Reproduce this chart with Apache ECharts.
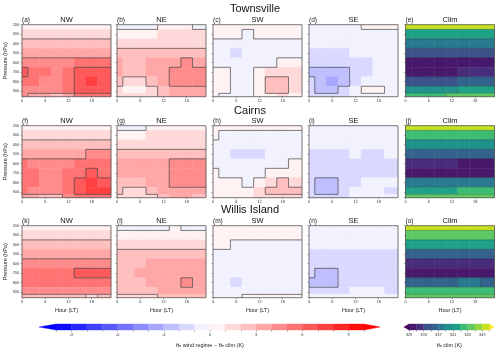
<!DOCTYPE html>
<html>
<head>
<meta charset="utf-8">
<script src="https://cdn.jsdelivr.net/npm/echarts@6/dist/echarts.min.js"></script>
<style>
html, body { margin: 0; padding: 0; background: #fff; }
#chart { width: 500px; height: 350px; }
</style>
</head>
<body>
<div id="chart"></div>
<script>
// grid of the composites: local hour x pressure level
var hours = [0, 3, 6, 9, 12, 15, 18, 21];
var levels = [200, 300, 400, 500, 600, 700, 800, 900, 950];
var stations = ['Townsville', 'Cairns', 'Willis Island'];
var regimes = ['NW', 'NE', 'SW', 'SE', 'Clim'];
var panelTags = ['(a)', '(b)', '(c)', '(d)', '(e)', '(f)', '(g)', '(h)', '(i)', '(j)', '(k)', '(l)', '(m)', '(n)', '(o)'];
var hourTicks = [0, 6, 12, 18];
var anomLevels = [-10, -9, -8, -7, -6, -5, -4, -3, -2, -1, 0, 1, 2, 3, 4, 5, 6, 7, 8, 9, 10];
var anomTicks = [-9, -6, -3, 0, 3, 6, 9];
var climLevels = [329, 331, 333, 335, 337, 339, 341, 343, 345, 347, 349, 351];
var climTicks = [329, 333, 337, 341, 345, 349];

// theta-e anomaly (K), rows = levels, cols = hours
var tsvNW = [
  [0.6, 0.6, 0.5, 0.5, 0.6, 0.7, 0.8, 0.7],
  [1.4, 1.3, 1.3, 1.3, 1.5, 1.5, 1.6, 1.6],
  [2.3, 2.2, 2.1, 2.1, 2.2, 2.3, 2.4, 2.4],
  [3.3, 3.2, 3.1, 3.2, 3.4, 3.6, 3.8, 3.8],
  [4.6, 4.5, 4.3, 4.3, 4.6, 5.0, 5.3, 5.2],
  [6.0, 5.6, 5.0, 4.8, 5.3, 6.0, 6.4, 6.3],
  [5.5, 5.2, 4.8, 4.6, 5.6, 6.6, 7.0, 6.8],
  [4.8, 4.6, 4.3, 4.2, 5.0, 6.2, 6.8, 6.5],
  [4.0, 3.6, 3.0, 2.6, 3.6, 5.0, 5.6, 5.4]
];
var tsvNE = [
  [-0.3, -0.3, -0.4, -0.2, 0.1, 0.2, 0.1, -0.1],
  [0.8, 0.8, 0.8, 0.9, 1.0, 1.0, 1.1, 1.1],
  [1.5, 1.5, 1.5, 1.6, 1.8, 1.9, 1.9, 1.9],
  [2.3, 2.3, 2.3, 2.4, 2.6, 2.8, 2.8, 2.7],
  [3.0, 2.9, 2.9, 3.0, 3.4, 3.9, 4.0, 3.8],
  [3.2, 2.9, 2.8, 3.0, 3.6, 4.5, 4.6, 4.2],
  [2.4, 1.8, 1.7, 2.2, 3.2, 4.4, 4.5, 4.0],
  [1.8, 0.9, 0.6, 1.3, 2.8, 3.8, 3.8, 3.4],
  [1.6, 1.2, 1.0, 1.4, 2.5, 3.2, 3.3, 3.0]
];
var tsvSW = [
  [0.4, 0.4, 0.4, 0.3, 0.3, 0.3, 0.3, 0.3],
  [0.2, 0.1, 0.0, -0.1, 0.1, 0.3, 0.3, 0.3],
  [-0.2, -0.4, -0.4, -0.5, -0.3, -0.2, -0.1, -0.1],
  [-0.4, -0.7, -1.1, -0.7, -0.5, -0.6, -0.3, -0.2],
  [-0.1, -0.5, -0.6, -0.6, -0.3, -0.1, 0.2, 0.3],
  [0.6, 0.2, -0.3, -0.4, 0.4, 1.0, 1.2, 1.0],
  [0.8, 0.4, -0.3, -0.5, 0.6, 2.3, 2.4, 1.5],
  [0.6, 0.3, -0.3, -0.3, 0.5, 2.2, 2.3, 1.4],
  [0.3, -0.2, -0.6, -0.7, 0.0, 0.8, 1.0, 0.8]
];
var tsvSE = [
  [-0.3, -0.3, -0.2, -0.2, -0.1, 0.0, 0.3, 0.2],
  [-0.5, -0.5, -0.5, -0.5, -0.4, -0.4, -0.3, -0.3],
  [-0.6, -0.6, -0.6, -0.6, -0.5, -0.5, -0.5, -0.5],
  [-1.2, -1.2, -1.1, -1.1, -1.0, -1.0, -0.9, -0.9],
  [-1.6, -1.8, -1.8, -1.6, -1.3, -1.1, -1.0, -1.0],
  [-2.2, -2.6, -2.8, -2.5, -1.6, -1.1, -0.9, -0.9],
  [-2.0, -2.8, -3.3, -3.0, -1.4, -0.6, -0.4, -0.6],
  [-1.6, -2.2, -2.4, -2.0, -0.8, 0.2, 0.3, -0.2],
  [-1.2, -1.5, -1.6, -1.4, -0.8, -0.4, -0.3, -0.5]
];
var crnNW = [
  [0.7, 0.7, 0.6, 0.7, 0.8, 0.8, 0.8, 0.8],
  [1.5, 1.5, 1.5, 1.5, 1.6, 1.6, 1.6, 1.6],
  [2.4, 2.3, 2.3, 2.4, 2.5, 2.4, 2.4, 2.5],
  [3.6, 3.6, 3.5, 3.6, 3.8, 3.9, 4.0, 4.0],
  [5.0, 4.8, 4.5, 4.5, 4.8, 5.1, 5.2, 5.2],
  [5.4, 5.2, 4.8, 4.7, 5.0, 5.8, 6.0, 5.9],
  [5.3, 5.1, 4.7, 4.5, 5.2, 6.6, 7.0, 6.8],
  [5.0, 4.8, 4.3, 4.2, 5.4, 6.8, 7.6, 7.3],
  [3.6, 3.2, 2.8, 2.8, 4.0, 5.2, 5.8, 5.6]
];
var crnNE = [
  [-0.3, -0.3, -0.2, 0.1, 0.3, 0.4, 0.4, 0.3],
  [0.8, 0.9, 0.9, 1.0, 1.1, 1.1, 1.2, 1.1],
  [1.6, 1.7, 1.7, 1.8, 1.9, 1.9, 1.9, 1.9],
  [2.5, 2.6, 2.6, 2.7, 2.8, 2.9, 2.9, 2.8],
  [3.0, 3.0, 3.1, 3.2, 3.6, 4.2, 4.3, 4.2],
  [3.1, 3.1, 3.1, 3.3, 3.8, 4.5, 4.6, 4.4],
  [2.9, 2.8, 2.8, 3.0, 3.6, 4.4, 4.5, 4.2],
  [2.2, 1.8, 1.7, 2.3, 3.2, 3.7, 3.7, 3.5],
  [1.6, 1.2, 1.2, 1.7, 2.6, 3.1, 3.1, 2.9]
];
var crnSW = [
  [0.3, 0.4, 0.5, 0.4, 0.3, 0.3, 0.3, 0.3],
  [0.0, -0.1, -0.1, -0.1, -0.2, -0.2, -0.3, -0.3],
  [-0.6, -0.7, -0.8, -0.8, -0.8, -0.8, -0.7, -0.7],
  [-0.8, -1.0, -1.2, -1.2, -1.1, -1.0, -0.9, -0.8],
  [-0.3, -0.6, -0.8, -0.9, -0.7, -0.5, -0.3, 0.0],
  [0.3, -0.2, -0.5, -0.6, -0.2, 0.3, 0.6, 0.7],
  [0.6, 0.3, 0.0, -0.1, 0.8, 1.8, 2.0, 1.8],
  [0.8, 0.6, 0.3, 0.3, 1.2, 2.2, 2.8, 2.6],
  [0.6, 0.5, 0.4, 0.4, 1.0, 1.6, 1.8, 1.7]
];
var crnSE = [
  [-0.4, -0.4, -0.4, -0.4, -0.3, -0.3, -0.1, -0.2],
  [-0.6, -0.6, -0.6, -0.6, -0.6, -0.6, -0.5, -0.5],
  [-0.8, -0.8, -0.8, -0.8, -0.8, -0.8, -0.7, -0.7],
  [-1.1, -1.1, -1.1, -1.1, -1.0, -1.1, -1.1, -1.0],
  [-1.3, -1.3, -1.3, -1.3, -1.2, -1.2, -1.2, -1.2],
  [-1.4, -1.5, -1.5, -1.4, -1.2, -1.1, -1.2, -1.2],
  [-1.6, -2.1, -2.2, -1.8, -1.1, -0.8, -0.8, -1.0],
  [-1.7, -2.4, -2.6, -2.0, -1.0, -0.7, -0.8, -1.1],
  [-1.3, -1.4, -1.5, -1.3, -0.8, -0.6, -0.6, -0.8]
];
var wilNW = [
  [0.6, 0.6, 0.6, 0.7, 0.9, 0.7, 0.7, 0.7],
  [1.5, 1.5, 1.5, 1.5, 1.6, 1.5, 1.5, 1.5],
  [2.2, 2.2, 2.2, 2.2, 2.3, 2.2, 2.2, 2.2],
  [3.4, 3.4, 3.4, 3.5, 3.7, 3.7, 3.7, 3.6],
  [4.6, 4.6, 4.6, 4.7, 4.9, 4.9, 4.9, 4.8],
  [5.1, 5.1, 5.1, 5.3, 5.9, 6.0, 6.2, 6.0],
  [5.0, 5.0, 5.0, 5.1, 5.4, 5.5, 5.8, 5.5],
  [4.2, 4.2, 4.2, 4.3, 4.6, 4.6, 4.7, 4.5],
  [2.5, 2.5, 2.4, 2.4, 2.6, 2.6, 1.9, 2.5]
];
var wilNE = [
  [-0.2, -0.2, -0.2, -0.1, -0.3, 0.0, -0.1, -0.1],
  [0.6, 0.6, 0.6, 0.6, 0.6, 0.6, 0.6, 0.6],
  [1.4, 1.4, 1.4, 1.5, 1.6, 1.6, 1.6, 1.6],
  [2.2, 2.2, 2.3, 2.4, 2.6, 2.6, 2.6, 2.5],
  [2.8, 2.8, 2.9, 3.1, 3.3, 3.3, 3.3, 3.2],
  [2.9, 2.9, 3.0, 3.2, 3.5, 3.6, 3.7, 3.5],
  [2.8, 2.8, 2.8, 3.0, 3.4, 3.6, 4.2, 3.7],
  [2.4, 2.4, 2.4, 2.6, 3.0, 3.2, 3.5, 3.3],
  [1.5, 1.5, 1.6, 1.7, 2.0, 2.1, 2.1, 2.0]
];
var wilSW = [
  [0.4, 0.4, 0.4, 0.4, 0.4, 0.4, 0.4, 0.4],
  [0.3, 0.3, 0.3, 0.1, 0.1, 0.1, 0.2, 0.2],
  [0.0, 0.0, -0.1, -0.2, -0.2, -0.2, -0.2, -0.3],
  [-0.3, -0.3, -0.3, -0.4, -0.4, -0.4, -0.4, -0.4],
  [-0.5, -0.5, -0.6, -0.5, -0.5, -0.5, -0.5, -0.5],
  [-0.6, -0.7, -0.9, -0.7, -0.6, -0.6, -0.6, -0.6],
  [-0.7, -0.9, -1.2, -0.9, -0.7, -0.7, -0.7, -0.7],
  [-0.5, -0.6, -0.7, -0.6, -0.4, -0.4, -0.5, -0.5],
  [-0.2, -0.2, -0.1, 0.1, 0.2, 0.3, 0.2, 0.1]
];
var wilSE = [
  [-0.4, -0.4, -0.4, -0.4, -0.4, -0.4, -0.4, -0.4],
  [-0.5, -0.5, -0.5, -0.5, -0.5, -0.5, -0.5, -0.5],
  [-0.7, -0.7, -0.7, -0.7, -0.7, -0.7, -0.7, -0.7],
  [-1.1, -1.1, -1.1, -1.1, -1.1, -1.1, -1.1, -1.1],
  [-1.4, -1.5, -1.5, -1.4, -1.2, -1.1, -1.1, -1.2],
  [-2.0, -2.2, -2.2, -2.0, -1.3, -1.1, -1.2, -1.6],
  [-2.1, -2.2, -2.1, -1.8, -1.1, -1.2, -1.2, -1.4],
  [-1.5, -1.5, -1.4, -1.2, -1.0, -1.0, -1.0, -1.1],
  [-1.0, -1.0, -0.7, -0.4, -0.4, -0.6, -0.8, -0.9]
];
// climatological theta-e (K)
var tsvClim = [
  [350.0, 350.0, 350.0, 350.0, 350.0, 350.0, 350.0, 350.0],
  [342.5, 342.5, 342.5, 342.5, 342.4, 342.4, 342.4, 342.4],
  [338.5, 338.5, 338.5, 338.5, 338.3, 338.2, 338.2, 338.3],
  [334.0, 334.0, 334.0, 334.0, 333.6, 333.4, 333.4, 333.5],
  [330.0, 330.0, 330.0, 330.0, 329.6, 329.4, 329.4, 329.4],
  [329.4, 329.4, 329.5, 329.6, 330.5, 331.2, 331.3, 331.2],
  [333.8, 333.8, 333.6, 333.5, 334.5, 335.4, 335.6, 335.4],
  [340.2, 340.2, 340.0, 340.0, 340.8, 341.4, 341.5, 341.4],
  [344.6, 344.6, 344.5, 344.5, 345.0, 345.5, 345.6, 345.5]
];
var crnClim = [
  [350.5, 350.5, 350.5, 350.5, 350.5, 350.5, 350.5, 350.5],
  [344.5, 344.5, 344.5, 344.5, 344.4, 344.4, 344.4, 344.4],
  [340.2, 340.2, 340.2, 340.2, 340.1, 340.0, 340.0, 340.1],
  [335.8, 335.8, 335.8, 335.8, 335.6, 335.5, 335.5, 335.6],
  [331.8, 331.8, 331.8, 331.6, 331.0, 330.6, 330.6, 330.8],
  [329.6, 329.6, 329.6, 329.8, 330.0, 330.6, 330.6, 330.4],
  [337.5, 337.5, 337.3, 337.2, 337.6, 338.2, 338.3, 338.0],
  [342.5, 342.5, 342.4, 342.4, 342.8, 343.2, 343.3, 343.0],
  [346.0, 346.0, 346.0, 346.0, 346.2, 346.5, 346.5, 346.3]
];
var wilClim = [
  [350.5, 350.5, 350.5, 350.5, 350.5, 350.5, 350.5, 350.5],
  [345.5, 345.5, 345.5, 345.5, 345.5, 345.5, 345.5, 345.5],
  [341.5, 341.5, 341.5, 341.5, 341.5, 341.5, 341.5, 341.5],
  [336.5, 336.5, 336.5, 336.5, 336.4, 336.4, 336.4, 336.5],
  [332.4, 332.4, 332.4, 332.4, 332.2, 332.2, 332.2, 332.3],
  [329.6, 329.6, 329.6, 329.6, 329.7, 329.7, 329.7, 329.6],
  [336.8, 336.8, 336.8, 336.8, 336.9, 337.0, 337.0, 336.9],
  [343.0, 343.0, 343.0, 343.0, 343.0, 343.1, 343.1, 343.0],
  [346.0, 346.0, 346.0, 346.0, 346.0, 346.1, 346.1, 346.0]
];

var panels = [
  tsvNW, tsvNE, tsvSW, tsvSE, tsvClim,
  crnNW, crnNE, crnSW, crnSE, crnClim,
  wilNW, wilNE, wilSW, wilSE, wilClim
];

// ---- layout / style ----
var colLeft = [22, 117, 213, 309, 405.5];
var rowTop = [24.7, 125.7, 225.7];
var panelW = 89, panelH = 72;
var hourEdges = [0, 1.5, 4.5, 7.5, 10.5, 13.5, 16.5, 19.5, 23];
var levelEdges = [200, 250, 350, 450, 550, 650, 750, 850, 925, 960];
var fontFam = 'Liberation Sans, Arial, sans-serif';

function bwr(c) {
  var f = Math.min(Math.abs(c) / 10, 1);
  var g = Math.round(255 * (1 - f));
  return c < 0 ? 'rgb(' + g + ',' + g + ',255)' : 'rgb(255,' + g + ',' + g + ')';
}
var viridis = ['#440154', '#48186a', '#472d7b', '#3b528b', '#33638d', '#297a8e', '#21918c',
  '#1fa188', '#3fbc73', '#5ec962', '#90d743', '#c8e020', '#fde725'];

var anomPieces = [{ lt: anomLevels[0], color: '#0000ff' }];
for (var k = 0; k < anomLevels.length - 1; k++) {
  anomPieces.push({ gte: anomLevels[k], lt: anomLevels[k + 1], color: bwr((anomLevels[k] + anomLevels[k + 1]) / 2) });
}
anomPieces.push({ gte: anomLevels[anomLevels.length - 1], color: '#ff0000' });

var climPieces = [{ lt: climLevels[0], color: viridis[0] }];
for (var k2 = 0; k2 < climLevels.length - 1; k2++) {
  climPieces.push({ gte: climLevels[k2], lt: climLevels[k2 + 1], color: viridis[k2 + 1] });
}
climPieces.push({ gte: climLevels[climLevels.length - 1], color: viridis[12] });

function renderCell(params, api) {
  var i = api.value(3), j = api.value(4);
  var p0 = api.coord([hourEdges[i], levelEdges[j]]);
  var p1 = api.coord([hourEdges[i + 1], levelEdges[j + 1]]);
  var col = api.visual('color');
  return {
    type: 'rect',
    shape: { x: p0[0], y: p0[1], width: p1[0] - p0[0], height: p1[1] - p0[1] },
    style: { fill: col, stroke: col, lineWidth: 0.5 }
  };
}

// contour band index: every 2 K for anomalies, every 4 K from 329 for clim
function band(v, isClim) {
  return isClim ? Math.floor((v - 329) / 4) : Math.floor(v / 2);
}
function renderEdges(params, api) {
  var i = api.value(3), j = api.value(4), p = api.value(5);
  var vals = panels[p], isClim = (p % 5 === 4);
  var v = vals[j][i], kids = [];
  var lc = isClim ? 'rgba(30,30,30,0.35)' : '#444';
  if (i < hours.length - 1 && band(v, isClim) !== band(vals[j][i + 1], isClim)) {
    var a = api.coord([hourEdges[i + 1], levelEdges[j]]), b = api.coord([hourEdges[i + 1], levelEdges[j + 1]]);
    kids.push({ type: 'line', shape: { x1: a[0], y1: a[1], x2: b[0], y2: b[1] }, style: { stroke: lc, lineWidth: 0.7 } });
  }
  if (j < levels.length - 1 && band(v, isClim) !== band(vals[j + 1][i], isClim)) {
    var e = api.coord([hourEdges[i], levelEdges[j + 1]]), d = api.coord([hourEdges[i + 1], levelEdges[j + 1]]);
    kids.push({ type: 'line', shape: { x1: e[0], y1: e[1], x2: d[0], y2: d[1] }, style: { stroke: lc, lineWidth: 0.7 } });
  }
  return { type: 'group', children: kids };
}

var grids = [], xAxes = [], yAxes = [], series = [], titles = [];
var anomSeries = [], climSeries = [];

for (var r = 0; r < 3; r++) {
  titles.push({
    text: stations[r], left: (r === 0 ? 255 : 250), top: [3.5, 105.5, 204.5][r], textAlign: 'center', padding: 0,
    textStyle: { fontSize: 11, fontWeight: 'normal', color: '#111', fontFamily: fontFam }
  });
  for (var c = 0; c < 5; c++) {
    var idx = r * 5 + c;
    grids.push({
      left: colLeft[c], top: rowTop[r], width: panelW, height: panelH,
      show: true, z: 10, backgroundColor: 'transparent', borderColor: '#555', borderWidth: 0.8
    });
    xAxes.push({
      gridIndex: idx, type: 'value', min: 0, max: 23, interval: 6,
      name: r === 2 ? 'Hour (LT)' : '', nameLocation: 'middle', nameGap: 10,
      nameTextStyle: { fontSize: 5.5, color: '#222', fontFamily: fontFam },
      axisLine: { show: false }, splitLine: { show: false },
      axisTick: { length: 1.5, lineStyle: { color: '#444', width: 0.5 } },
      axisLabel: {
        fontSize: 3.8, color: '#333', margin: 2.5, fontFamily: fontFam, showMaxLabel: false,
        formatter: function (v) { return hourTicks.indexOf(v) >= 0 ? String(v) : ''; }
      }
    });
    yAxes.push({
      gridIndex: idx, type: 'value', min: 200, max: 960, interval: 100, inverse: true,
      name: c === 0 ? 'Pressure (hPa)' : '', nameLocation: 'middle', nameGap: 13,
      nameTextStyle: { fontSize: 5.5, color: '#222', fontFamily: fontFam },
      axisLine: { show: false }, splitLine: { show: false },
      axisTick: { length: 1.5, lineStyle: { color: '#444', width: 0.5 } },
      axisLabel: { show: c === 0, fontSize: 3.8, color: '#333', margin: 3, fontFamily: fontFam, showMaxLabel: false }
    });
    var data = [];
    var vals = panels[idx];
    for (var j = 0; j < levels.length; j++) {
      for (var i = 0; i < hours.length; i++) {
        data.push([hours[i], levels[j], vals[j][i], i, j, idx]);
      }
    }
    if (c === 4) climSeries.push(series.length); else anomSeries.push(series.length);
    series.push({
      type: 'custom', xAxisIndex: idx, yAxisIndex: idx, renderItem: renderCell,
      data: data, encode: { x: 0, y: 1 }, silent: true, z: 2
    });
    series.push({
      type: 'custom', xAxisIndex: idx, yAxisIndex: idx, renderItem: renderEdges,
      data: data, encode: { x: 0, y: 1 }, silent: true, z: 4
    });
    titles.push({
      text: panelTags[idx], left: colLeft[c], top: rowTop[r] - 8, padding: 0,
      textStyle: { fontSize: 6.5, fontWeight: 'normal', color: '#222', fontFamily: fontFam }
    });
    titles.push({
      text: regimes[c], left: colLeft[c] + panelW / 2, top: rowTop[r] - 8.6, textAlign: 'center', padding: 0,
      textStyle: { fontSize: 7.5, fontWeight: 'normal', color: '#111', fontFamily: fontFam }
    });
  }
}

// ---- colour bars ----
function renderBar(params, api) {
  var lo = api.value(0), hi = api.value(1), kind = api.value(3);
  var col = api.visual('color');
  var a = api.coord([lo, 0]), b = api.coord([hi, 1]);
  if (kind === 0) {
    return { type: 'rect', shape: { x: a[0], y: b[1], width: b[0] - a[0], height: a[1] - b[1] },
      style: { fill: col, stroke: col, lineWidth: 0.4 } };
  }
  // extension triangle: lo = bar end, hi = tip
  var m = api.coord([hi, 0.5]);
  return { type: 'polygon', shape: { points: [[a[0], a[1]], [a[0], b[1]], [m[0], m[1]]] },
    style: { fill: col, stroke: col, lineWidth: 0.4 } };
}

var anomBarData = [[anomLevels[0], anomLevels[0] - 1.1, anomLevels[0] - 0.5, 1]];
for (var q = 0; q < anomLevels.length - 1; q++) {
  anomBarData.push([anomLevels[q], anomLevels[q + 1], (anomLevels[q] + anomLevels[q + 1]) / 2, 0]);
}
anomBarData.push([anomLevels[anomLevels.length - 1], anomLevels[anomLevels.length - 1] + 1.05, anomLevels[anomLevels.length - 1] + 0.5, 1]);

var climBarData = [[climLevels[0], climLevels[0] - 1.4, climLevels[0] - 1, 1]];
for (var q2 = 0; q2 < climLevels.length - 1; q2++) {
  climBarData.push([climLevels[q2], climLevels[q2 + 1], (climLevels[q2] + climLevels[q2 + 1]) / 2, 0]);
}
climBarData.push([climLevels[climLevels.length - 1], climLevels[climLevels.length - 1] + 1.2, climLevels[climLevels.length - 1] + 1, 1]);

var gA = grids.length;
grids.push({ left: 56, top: 324, width: 308, height: 6 });
grids.push({ left: 409, top: 324, width: 80.6, height: 6 });
xAxes.push({
  gridIndex: gA, type: 'value', min: -10, max: 10, interval: 1,
  name: 'θₑ wind regime − θₑ clim (K)', nameLocation: 'middle', nameGap: 12,
  nameTextStyle: { fontSize: 5.5, color: '#222', fontFamily: fontFam },
  axisLine: { show: false }, splitLine: { show: false },
  axisTick: { length: 1.5, lineStyle: { color: '#444', width: 0.5 } },
  axisLabel: {
    fontSize: 4, color: '#333', margin: 3, fontFamily: fontFam,
    formatter: function (v) { return anomTicks.indexOf(v) >= 0 ? String(v) : ''; }
  }
});
xAxes.push({
  gridIndex: gA + 1, type: 'value', min: 329, max: 351, interval: 2,
  name: 'θₑ clim (K)', nameLocation: 'middle', nameGap: 12,
  nameTextStyle: { fontSize: 5.5, color: '#222', fontFamily: fontFam },
  axisLine: { show: false }, splitLine: { show: false },
  axisTick: { length: 1.5, lineStyle: { color: '#444', width: 0.5 } },
  axisLabel: {
    fontSize: 4, color: '#333', margin: 3, fontFamily: fontFam,
    formatter: function (v) { return climTicks.indexOf(v) >= 0 ? String(v) : ''; }
  }
});
yAxes.push({ gridIndex: gA, type: 'value', min: 0, max: 1, show: false });
yAxes.push({ gridIndex: gA + 1, type: 'value', min: 0, max: 1, show: false });
anomSeries.push(series.length);
series.push({ type: 'custom', xAxisIndex: gA, yAxisIndex: gA, renderItem: renderBar, data: anomBarData,
  encode: { x: [0, 1] }, silent: true, clip: false });
climSeries.push(series.length);
series.push({ type: 'custom', xAxisIndex: gA + 1, yAxisIndex: gA + 1, renderItem: renderBar, data: climBarData,
  encode: { x: [0, 1] }, silent: true, clip: false });

var option = {
  animation: false,
  backgroundColor: '#fff',
  title: titles,
  grid: grids,
  xAxis: xAxes,
  yAxis: yAxes,
  visualMap: [
    { type: 'piecewise', show: false, dimension: 2, seriesIndex: anomSeries, pieces: anomPieces },
    { type: 'piecewise', show: false, dimension: 2, seriesIndex: climSeries, pieces: climPieces }
  ],
  series: series
};

var myChart = echarts.init(document.getElementById('chart'));
myChart.setOption(option);
</script>
</body>
</html>
